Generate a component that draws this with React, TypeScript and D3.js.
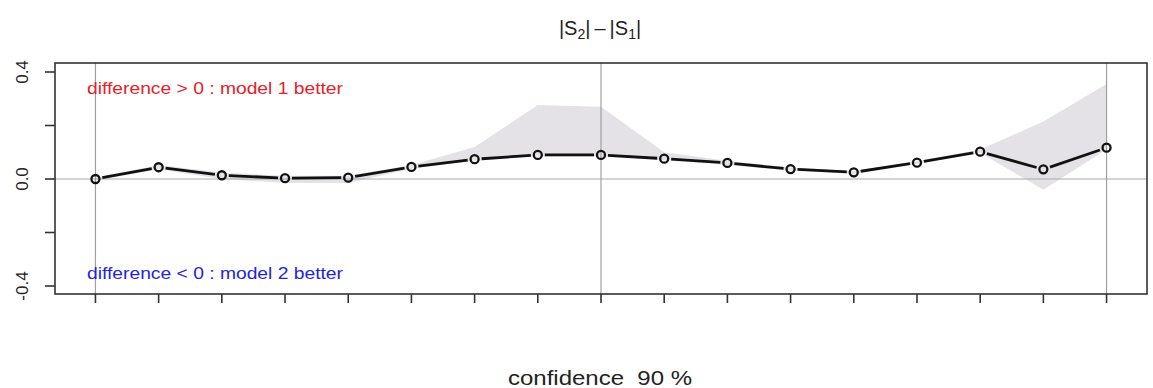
import React from "react";
import * as d3 from "d3";

// Confidence level index 0..16 along the x axis
const positions = d3.range(17);
// |S2| - |S1| at each position
const diffValues = [0.000, 0.044, 0.014, 0.003, 0.005, 0.045, 0.074, 0.090, 0.090, 0.076, 0.060, 0.037, 0.025, 0.061, 0.102, 0.036, 0.117];
// Upper and lower bounds of the shaded band
const bandUpper = [0.005, 0.052, 0.024, 0.012, 0.012, 0.052, 0.120, 0.277, 0.270, 0.100, 0.068, 0.043, 0.030, 0.066, 0.110, 0.215, 0.355];
const bandLower = [-0.005, 0.036, 0.000, -0.015, -0.015, 0.038, 0.068, 0.084, 0.084, 0.070, 0.052, 0.031, 0.020, 0.056, 0.098, -0.040, 0.110];
// Y tick values and the subset that gets labels
const yTicks = [-0.4, -0.2, 0, 0.2, 0.4];
const yLabels = ["-0.4", "0.0", "0.4"];
// Positions with vertical reference lines
const vLines = [0, 8, 16];

const W = 1153;
const H = 388;
const box = { left: 55, right: 1147, top: 63, bottom: 294 };

export default function App() {
  const x = d3.scaleLinear().domain([-0.64, 16.64]).range([box.left, box.right]);
  const y = d3.scaleLinear().domain([-0.4, 0.4]).range([286, 72]);

  const area = d3
    .area<number>()
    .x((i) => x(i))
    .y0((i) => y(bandLower[i]))
    .y1((i) => y(bandUpper[i]));

  // Line segments with gaps around each point marker
  const gap = 7;
  const segments = positions.slice(0, -1).map((i) => {
    const x1 = x(i), y1 = y(diffValues[i]);
    const x2 = x(i + 1), y2 = y(diffValues[i + 1]);
    const len = Math.hypot(x2 - x1, y2 - y1);
    const ux = (x2 - x1) / len, uy = (y2 - y1) / len;
    return { x1: x1 + ux * gap, y1: y1 + uy * gap, x2: x2 - ux * gap, y2: y2 - uy * gap };
  });

  const font = "'Liberation Sans', Arial, Helvetica, sans-serif";

  return (
    <svg
      width={W}
      height={H}
      style={{ position: "absolute", left: 0, top: 0, display: "block", background: "#fff" }}
      fontFamily={font}
    >
      {/* shaded band */}
      <path d={area(positions) ?? ""} fill="#e5e2e7" />

      {/* reference lines */}
      <line x1={box.left} x2={box.right} y1={y(0)} y2={y(0)} stroke="#a8a8a8" strokeWidth={1} />
      {vLines.map((i) => (
        <line key={i} x1={x(i)} x2={x(i)} y1={box.top} y2={box.bottom} stroke="#a0a0a0" strokeWidth={1.2} />
      ))}

      {/* series line and points */}
      {segments.map((s, k) => (
        <line key={k} x1={s.x1} y1={s.y1} x2={s.x2} y2={s.y2} stroke="#111" strokeWidth={2.8} />
      ))}
      {positions.map((i) => (
        <circle key={i} cx={x(i)} cy={y(diffValues[i])} r={4} fill="none" stroke="#111" strokeWidth={2.3} />
      ))}

      {/* plot box */}
      <rect
        x={box.left}
        y={box.top}
        width={box.right - box.left}
        height={box.bottom - box.top}
        fill="none"
        stroke="#333"
        strokeWidth={1.6}
      />

      {/* y axis ticks */}
      {yTicks.map((t) => (
        <line key={t} x1={45} x2={box.left} y1={y(t)} y2={y(t)} stroke="#333" strokeWidth={1.6} />
      ))}
      {yLabels.map((l) => (
        <text
          key={l}
          transform={`translate(28,${y(+l)}) rotate(-90)`}
          textAnchor="middle"
          fontSize={17}
          fill="#222"
        >
          {l}
        </text>
      ))}

      {/* x axis ticks */}
      {positions.map((i) => (
        <line key={i} x1={x(i)} x2={x(i)} y1={box.bottom} y2={303} stroke="#333" strokeWidth={1.6} />
      ))}

      {/* annotations */}
      <text x={87} y={94} fontSize={16} fill="#e8202a" textLength={256} lengthAdjust="spacingAndGlyphs">
        difference &gt; 0 : model 1 better
      </text>
      <text x={87} y={279} fontSize={16} fill="#2424d8" textLength={256} lengthAdjust="spacingAndGlyphs">
        difference &lt; 0 : model 2 better
      </text>

      {/* title */}
      <text x={600} y={35} textAnchor="middle" fontSize={20} fill="#222">
        <tspan>|S</tspan>
        <tspan fontSize={14} dy={4}>2</tspan>
        <tspan dy={-4}>|{"\u2009"}–{"\u2009"}|S</tspan>
        <tspan fontSize={14} dy={4}>1</tspan>
        <tspan dy={-4}>|</tspan>
      </text>

      {/* x axis label */}
      <text x={600} y={385} textAnchor="middle" fontSize={20} fill="#222" xmlSpace="preserve" textLength={184} lengthAdjust="spacingAndGlyphs">
        confidence  90 %
      </text>
    </svg>
  );
}
